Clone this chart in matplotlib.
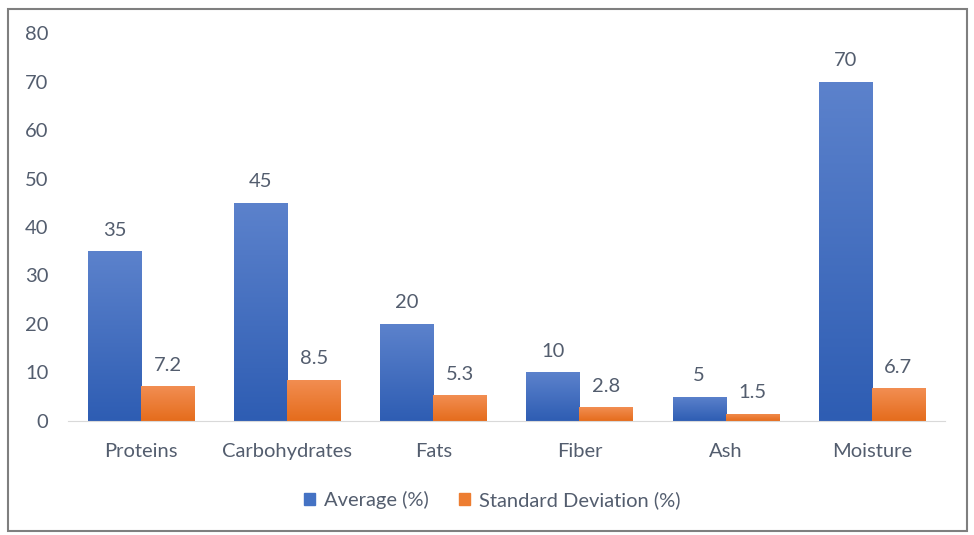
import numpy as np
import matplotlib.pyplot as plt
from matplotlib.patches import Rectangle
from matplotlib.colors import LinearSegmentedColormap

plt.rcParams['font.family'] = ['Lato', 'DejaVu Sans']

categories = ['Proteins', 'Carbohydrates', 'Fats', 'Fiber', 'Ash', 'Moisture']
average = [35, 45, 20, 10, 5, 70]
std_dev = [7.2, 8.5, 5.3, 2.8, 1.5, 6.7]

text_col = '#535d6e'
blue_cmap = LinearSegmentedColormap.from_list('b', ['#2e5db3', '#5c82cc'])
orange_cmap = LinearSegmentedColormap.from_list('o', ['#e56c1c', '#f28e52'])

fig = plt.figure(figsize=(9.74, 5.35), dpi=100)
ax = fig.add_axes([0.0698, 0.2131, 0.9002, 0.7252])

x = np.arange(len(categories))
w = 0.363
grad = np.linspace(0, 1, 256).reshape(-1, 1)


def gradient_bars(xs, vals, cmap, fmt):
    bars = ax.bar(xs, vals, w, color=cmap(0.5), edgecolor='none')
    for b, v in zip(bars, vals):
        im = ax.imshow(grad, cmap=cmap, aspect='auto', origin='lower',
                       extent=[b.get_x(), b.get_x() + b.get_width(), 0, v],
                       zorder=b.get_zorder() + 0.1)
        im.set_clip_path(b)
        ax.annotate(fmt(v), (b.get_x() + b.get_width() / 2, v),
                    xytext=(0, 9), textcoords='offset points',
                    ha='center', va='bottom', color=text_col, fontsize=14.5)
    return bars


b1 = gradient_bars(x - w / 2, average, blue_cmap, lambda v: f'{v:g}')
b2 = gradient_bars(x + w / 2, std_dev, orange_cmap, lambda v: f'{v:g}')

ax.set_xlim(-0.5, len(categories) - 0.5)
ax.set_ylim(0, 80)
ax.set_yticks(range(0, 81, 10))
ax.set_xticks(x)
ax.set_xticklabels(categories)
ax.tick_params(length=0, labelsize=14.5, colors=text_col)
ax.tick_params(axis='x', pad=16)
ax.tick_params(axis='y', pad=14)
for s in ['top', 'right', 'left']:
    ax.spines[s].set_visible(False)
ax.spines['bottom'].set_color('#d9d9d9')

handles = [Rectangle((0, 0), 1, 1, color='#4472c4'),
           Rectangle((0, 0), 1, 1, color='#ed7d31')]
fig.legend(handles, ['Average (%)', 'Standard Deviation (%)'],
           loc='center', bbox_to_anchor=(0.505, 0.066), ncol=2, frameon=False,
           fontsize=14.5, labelcolor=text_col, handlelength=0.55, handleheight=0.55,
           handletextpad=0.45, columnspacing=1.5)

fig.add_artist(Rectangle((0.008, 0.008), 0.985, 0.975, transform=fig.transFigure,
                         fill=False, edgecolor='#7f7f7f', linewidth=1.5))

fig.savefig('out.png', dpi=100)
